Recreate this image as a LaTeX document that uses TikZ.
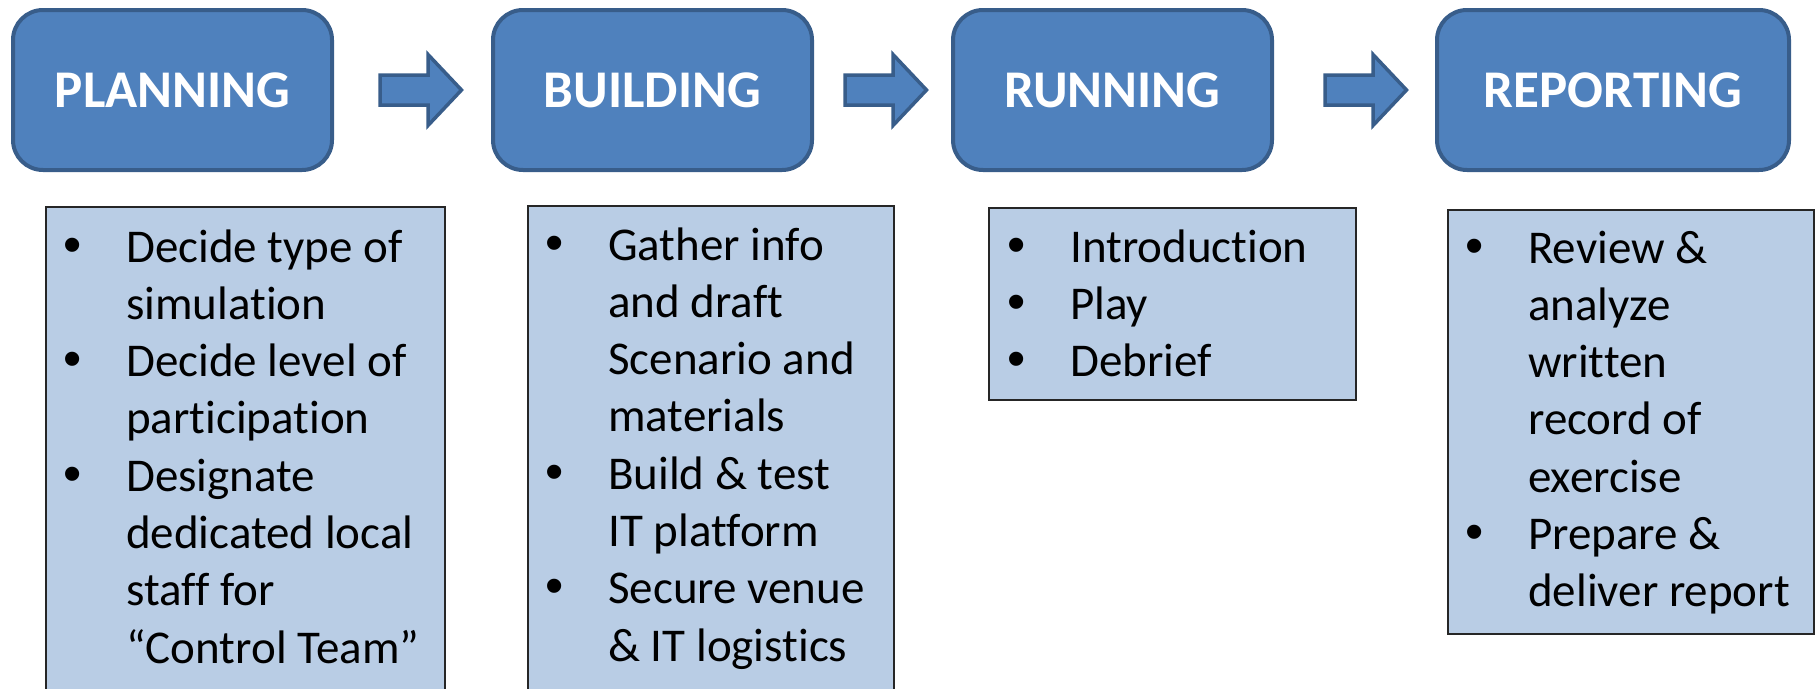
\documentclass[tikz,border=0pt]{standalone}
\usepackage{fontspec}
\setmainfont{Carlito}[Ligatures={NoCommon}]
\newfontfamily\bulfont{Liberation Sans}
\definecolor{accent}{HTML}{4F81BD}
\definecolor{accentdark}{HTML}{385D8A}
\definecolor{listfill}{HTML}{B9CDE5}
\definecolor{listdraw}{HTML}{262626}
\newcommand\bitem[1]{\par\hangindent=81pt\hangafter=1\noindent\hbox to 81pt{\hspace*{27pt}\makebox[0pt]{\bulfont\fontsize{52}{57.3}\selectfont •}\hfil}#1}
\newcommand\blist[1]{\parbox[t]{420pt}{\parskip=0pt\fontsize{47}{57.3}\selectfont #1\par}}
\tikzset{
  titlebox/.style={rectangle, draw=accentdark, line width=4pt, fill=accent,
    rounded corners=30pt, text=white, font=\fontsize{53}{60}\selectfont\bfseries,
    minimum height=160pt, inner sep=0pt},
  listbox/.style={rectangle, draw=listdraw, line width=2pt, fill=listfill, inner sep=0pt},
  listtext/.style={anchor=base west, inner sep=0pt, text=black, align=left},
  arrowstyle/.style={draw=accentdark, fill=accent, line width=3.5pt},
  barrow/.pic={\draw[arrowstyle] (0,-15) -- (48,-15) -- (48,-35.5) -- (81.5,0) -- (48,35.5) -- (48,15) -- (0,15) -- cycle;}
}
\begin{document}
\begin{tikzpicture}[x=1pt,y=-1pt]
\useasboundingbox (0,0) rectangle (1819,688);
\clip (0,0) rectangle (1819,688);
\fill[white] (0,0) rectangle (1819,688);
% title boxes
\node[titlebox, minimum width=319pt] (plan) at (172.5,90) {PLANNING};
\node[titlebox, minimum width=319pt] (build) at (652.5,90) {BUILDING};
\node[titlebox, minimum width=319pt] (run) at (1112.5,90) {RUNNING};
\node[titlebox, minimum width=352pt] (report) at (1613,90) {REPORTING};
% block arrows
\pic at (380,90) {barrow};
\pic at (845,90) {barrow};
\pic at (1325,90) {barrow};
% list boxes
\node[listbox, minimum width=399pt, minimum height=513pt] (planbox) at (245.5,463.5) {};
\node[listbox, minimum width=366pt, minimum height=514pt] (buildbox) at (711,463) {};
\node[listbox, minimum width=367pt, minimum height=192pt] (runbox) at (1172.5,304) {};
\node[listbox, minimum width=366pt, minimum height=424pt] (reportbox) at (1631,422) {};
% list texts
\node[listtext] (plantext) at (45,262) {\blist{%
\bitem{Decide type of\\simulation}
\bitem{Decide level of\\participation}
\bitem{Designate\\dedicated local\\staff for\\“Control Team”}}};
\node[listtext] (buildtext) at (527,260) {\blist{%
\bitem{Gather info\\and draft\\Scenario and\\materials}
\bitem{Build \& test\\IT platform}
\bitem{Secure venue\\\& IT logistics}}};
\node[listtext] (runtext) at (989,262) {\blist{%
\bitem{Introduction}
\bitem{Play}
\bitem{Debrief}}};
\node[listtext] (reporttext) at (1447,263) {\blist{%
\bitem{Review \&\\analyze\\written\\record of\\exercise}
\bitem{Prepare \&\\deliver report}}};
\end{tikzpicture}
\end{document}
